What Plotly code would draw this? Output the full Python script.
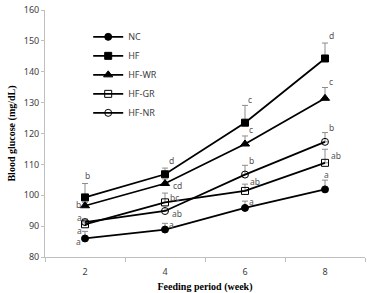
import plotly.graph_objects as go

weeks = ["2", "4", "6", "8"]
series_names = ["NC", "HF", "HF-WR", "HF-GR", "HF-NR"]
nc = [86.0, 88.9, 95.9, 101.9]
hf = [99.3, 106.8, 123.5, 144.3]
wr = [96.6, 103.8, 116.6, 131.4]
gr = [90.6, 97.7, 101.4, 110.5]
nr = [91.3, 94.9, 106.7, 117.3]
nc_err = [2.3, 2.0, 2.2, 3.0]
hf_err = [4.5, 2.0, 5.6, 5.0]
wr_err = [1.0, 1.5, 2.6, 3.5]
gr_err = [1.0, 3.0, 2.2, 4.4]
nr_err = [1.0, 1.5, 3.0, 3.0]
nc_lab = ["a", "a", "a", "a"]
hf_lab = ["b", "d", "c", "d"]
wr_lab = ["b", "cd", "c", "c"]
gr_lab = ["a", "bc", "ab", "ab"]
nr_lab = ["a", "ab", "b", "b"]
y_ticks = [80, 90, 100, 110, 120, 130, 140, 150, 160]

values = [nc, hf, wr, gr, nr]
errors = [nc_err, hf_err, wr_err, gr_err, nr_err]
labels = [nc_lab, hf_lab, wr_lab, gr_lab, nr_lab]

# styles
symbols = ["circle", "square", "triangle-up", "square-open", "circle-open"]
# label placement: (use_err_top, xshift, yshift) per series per week
placements = [
    [(False, -7, -3), (True, 6, -1), (True, 6, 0), (True, 1, 6)],
    [(True, 2, 8), (True, 6, 8), (True, 5, 6), (True, 6, 8)],
    [(False, -7, 1), (False, 12, -2), (True, 6, 6), (True, 6, 6)],
    [(False, -6, -6), (False, 9, 5), (False, 10, 9), (False, 11, 7)],
    [(False, -6, 5), (False, 12, -2), (True, 6, 5), (True, 6, 5)],
]

fig = go.Figure()
for name, vals, errs, sym in zip(series_names, values, errors, symbols):
    fig.add_trace(go.Scatter(
        x=weeks, y=vals, name=name, mode="lines+markers",
        line=dict(color="black", width=1.8),
        marker=dict(symbol=sym, size=8 if "triangle" in sym else 7, color="black",
                    line=dict(color="black", width=1)),
        error_y=dict(type="data", array=errs, arrayminus=[0] * len(errs),
                     symmetric=False, color="#8c8c8c", thickness=1, width=3),
    ))

for vals, errs, labs, pl in zip(values, errors, labels, placements):
    for i in range(len(weeks)):
        top, dx, dy = pl[i]
        yv = vals[i] + (errs[i] if top else 0)
        fig.add_annotation(x=i, y=yv, text=labs[i], showarrow=False,
                           xshift=dx, yshift=dy, xanchor="center", yanchor="middle",
                           borderpad=0,
                           font=dict(family="Noto Sans", size=8.5, color="#555555"))

fig.update_layout(
    width=367, height=293,
    margin=dict(l=45, r=2, t=10, b=36),
    paper_bgcolor="white", plot_bgcolor="white",
    showlegend=True,
    legend=dict(x=0.135, y=0.95, xanchor="left", yanchor="top",
                bgcolor="rgba(0,0,0,0)", font=dict(family="Noto Sans", size=9, color="#404040"),
                tracegroupgap=0, itemwidth=30),
    xaxis=dict(type="category", range=[-0.5, 3.5], showline=True, linecolor="#bfbfbf",
               linewidth=1, ticks="outside", tickson="boundaries", ticklen=4,
               tickcolor="#bfbfbf", showgrid=False, zeroline=False,
               ticklabelstandoff=6,
               tickfont=dict(family="Noto Sans", size=9, color="#404040"),
               title=dict(text="<b>Feeding period (week)</b>", standoff=6,
                          font=dict(family="Liberation Serif", size=10, color="black"))),
    yaxis=dict(range=[80, 160], tickvals=y_ticks, showline=True, linecolor="#bfbfbf",
               linewidth=1, ticks="outside", ticklen=3, tickcolor="#bfbfbf",
               showgrid=False, zeroline=False,
               tickfont=dict(family="Noto Sans", size=9, color="#404040"),
               title=dict(text="<b>Blood glucose (mg/dL)</b>", standoff=6,
                          font=dict(family="Liberation Serif", size=10, color="black"))),
)

fig.write_html("out.html")
